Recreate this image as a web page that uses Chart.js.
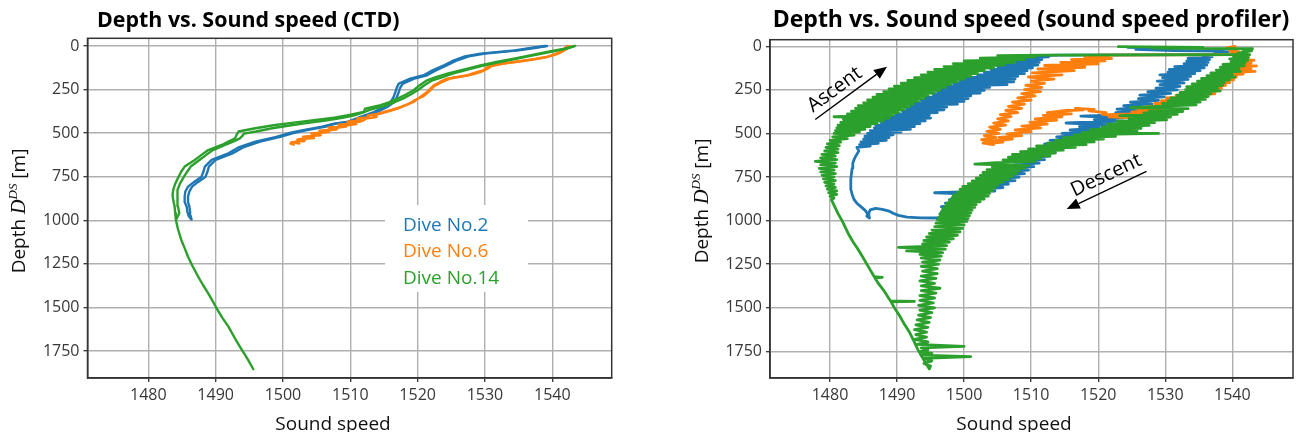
<!DOCTYPE html>
<html><head><meta charset="utf-8">
<script src="https://cdn.jsdelivr.net/npm/chart.js@4.4.1/dist/chart.umd.min.js"></script>
<style>
html,body{margin:0;padding:0;background:#fff;}
#wrap{position:relative;width:1296px;height:432px;overflow:hidden;background:#fff;}
#c1{position:absolute;left:0;top:0;width:650px;height:432px;}
#c2{position:absolute;left:650px;top:0;width:646px;height:432px;}
</style></head><body>
<div id="wrap"><canvas id="c1" width="650" height="432"></canvas><canvas id="c2" width="646" height="432"></canvas></div>
<script>
// ---------- tick labels ----------
const xTickValues = [1480, 1490, 1500, 1510, 1520, 1530, 1540];
const yTickValues = [0, 250, 500, 750, 1000, 1250, 1500, 1750];
const seriesNames = ['Dive No.2', 'Dive No.6', 'Dive No.14'];
const seriesColors = ['#1f77b4', '#ff7f0e', '#2ca02c'];

// ---------- CTD profiles: [depth m, sound speed m/s] ----------
const ctdDive2Down = [[0,1539.0],[10,1537.0],[25,1534.4],[44,1529.3],[60,1527.0],[82,1525.4],[111,1523.9],[140,1522.2],[168,1520.9],[187,1518.9],[216,1517.2],[240,1516.9],[264,1516.7],[295,1516.4],[321,1516.0],[350,1515.0],[379,1513.5],[407,1511.5],[434,1509.7],[446,1507.6],[463,1505.8],[484,1502.8],[501,1500.8],[522,1499.0],[549,1495.9],[580,1493.5],[616,1491.9],[654,1489.4],[692,1488.4],[720,1488.2],[750,1487.9],[780,1486.8],[807,1485.9],[835,1485.5],[864,1485.4],[895,1485.4],[922,1485.7],[950,1485.8],[975,1486.0],[995,1486.4]];
const ctdDive2Up = [[995,1486.4],[975,1486.3],[950,1486.2],[922,1486.1],[895,1485.9],[864,1485.9],[835,1486.1],[807,1486.5],[780,1487.4],[750,1488.5],[720,1488.8],[692,1489.0],[654,1490.0],[616,1492.5],[580,1494.2],[549,1496.6],[522,1499.6],[501,1501.4],[484,1503.4],[463,1506.4],[446,1507.8],[434,1510.2],[407,1512.0],[379,1514.0],[350,1515.5],[321,1516.5],[295,1516.9],[264,1517.2],[240,1517.4],[216,1517.8],[187,1519.5],[168,1521.4],[140,1522.7],[111,1524.3],[82,1525.9],[60,1527.6],[44,1530.0],[25,1535.0],[10,1537.6],[0,1539.2]];
const ctdDive6Down = [[0,1542.2],[15,1541.8],[34,1541.2],[50,1540.2],[63,1539.2],[78,1536.8],[92,1534.3],[111,1530.8],[125,1530.2],[139,1529.8],[155,1528.4],[168,1527.4],[187,1524.4],[205,1523.4],[226,1522.4],[245,1521.9],[264,1521.4],[292,1520.4],[321,1519.4],[340,1518.2],[360,1517.0],[374,1515.8],[388,1514.5],[400,1513.4],[408,1513.9],[416,1512.3],[426,1512.0],[432,1511.6],[440,1510.6],[448,1510.9],[455,1509.5],[462,1509.4],[470,1508.0],[478,1507.8],[484,1507.0],[492,1506.4],[500,1505.3],[506,1505.4],[512,1504.6],[520,1503.8],[527,1503.8],[534,1502.6],[541,1502.1],[548,1502.3],[554,1501.2],[560,1501.1],[566,1501.6]];
const ctdDive6Up = [[560,1502.4],[552,1501.4],[545,1503.2],[536,1502.2],[528,1504.6],[520,1503.0],[512,1505.6],[502,1504.2],[494,1506.8],[486,1505.4],[478,1508.0],[468,1506.8],[460,1509.2],[452,1508.2],[444,1510.4],[434,1509.6],[426,1511.6],[416,1511.0],[408,1512.8],[398,1512.6],[390,1514.0],[378,1515.0],[366,1516.2],[350,1517.6],[330,1518.8],[310,1519.6],[290,1520.8],[270,1521.4],[250,1522.0],[232,1522.4],[215,1523.2],[200,1524.0],[185,1525.0],[170,1527.4],[158,1528.6],[145,1529.6],[130,1530.4],[115,1531.0],[100,1533.0],[88,1535.4],[75,1537.6],[60,1539.6],[45,1540.8],[30,1541.6],[15,1542.2],[0,1542.6]];
const ctdDive14Down = [[0,1543.3],[15,1541.8],[34,1539.2],[55,1536.5],[73,1534.3],[92,1531.7],[111,1529.3],[130,1527.4],[159,1524.4],[180,1522.6],[197,1521.4],[225,1520.3],[254,1519.4],[280,1518.2],[302,1517.0],[322,1515.8],[340,1514.5],[360,1512.2],[379,1512.0],[398,1509.5],[412,1507.6],[426,1504.6],[440,1501.6],[455,1498.6],[472,1495.9],[491,1493.4],[510,1493.1],[530,1492.9],[549,1491.9],[568,1490.9],[597,1488.9],[625,1487.9],[654,1486.9],[692,1485.4],[720,1484.9],[750,1484.5],[790,1484.0],[826,1483.7],[855,1483.6],[884,1483.7],[920,1483.9],[960,1484.0],[998,1484.1],[1050,1484.4],[1113,1484.9],[1160,1485.4],[1209,1485.9],[1265,1486.6],[1323,1487.4],[1370,1488.1],[1419,1488.9],[1460,1489.5],[1505,1490.15],[1560,1491.0],[1610,1491.9],[1680,1492.9],[1744,1493.9],[1800,1494.8],[1855,1495.6]];
const ctdDive14Up = [[998,1484.1],[960,1484.6],[920,1484.4],[884,1484.3],[855,1484.3],[826,1484.4],[790,1484.7],[750,1485.3],[720,1485.8],[692,1486.3],[654,1487.6],[625,1488.6],[597,1489.6],[568,1491.4],[549,1492.6],[530,1493.6],[515,1494.0],[503,1494.2],[491,1496.0],[472,1498.4],[455,1501.2],[440,1504.0],[426,1506.6],[412,1508.8],[398,1510.6],[385,1511.6],[365,1513.0],[345,1515.0],[325,1516.4],[302,1517.8],[280,1518.9],[254,1520.0],[225,1521.0],[197,1522.2],[180,1523.6],[159,1525.2],[130,1528.0],[111,1529.9],[92,1532.2],[73,1534.8],[55,1537.0],[34,1539.8],[15,1542.2],[0,1543.4]];

// ---------- Sound speed profiler: [depth m, sound speed m/s] ----------
const profDive2Down = [[6,1524.4],[12,1530.8],[18,1525.6],[24,1531.2],[28,1538.0],[32,1539.4],[36,1537.4],[44,1538.4],[52,1535.6],[60,1537.0],[68,1533.4],[76,1536.6],[84,1533.2],[92,1536.4],[100,1532.8],[108,1536.2],[116,1531.4],[124,1535.8],[132,1530.6],[140,1535.2],[148,1530.4],[156,1534.4],[164,1529.2],[172,1533.8],[180,1529.6],[190,1533.4],[200,1528.8],[210,1532.8],[220,1529.2],[230,1532.2],[240,1528.6],[250,1531.8],[260,1527.4],[270,1530.8],[280,1526.2],[290,1529.8],[300,1526.0],[310,1529.0],[320,1524.8],[330,1528.0],[340,1523.8],[350,1527.0],[360,1522.8],[370,1526.0],[380,1522.6],[390,1525.0],[400,1517.4],[410,1523.8],[420,1519.4],[430,1522.6],[440,1515.2],[450,1521.2],[460,1517.2],[470,1520.2],[480,1515.8],[490,1519.4],[500,1514.6],[510,1518.2],[520,1513.8],[530,1517.2],[540,1512.8],[550,1516.4],[560,1512.0],[570,1515.4],[580,1511.2],[590,1514.6],[600,1510.0],[610,1513.6],[620,1509.6],[630,1512.8],[640,1508.8],[650,1512.0],[660,1508.0],[670,1511.2],[680,1507.4],[690,1510.4],[700,1506.8],[710,1509.6],[720,1506.0],[730,1509.0],[740,1505.4],[750,1508.2],[760,1504.8],[770,1507.6],[780,1503.8],[790,1506.6],[800,1502.6],[810,1505.8],[820,1501.8],[830,1504.6],[840,1495.6],[850,1502.2],[860,1498.4],[870,1501.6],[880,1497.8],[890,1500.8],[900,1497.2],[910,1500.2],[920,1496.6],[930,1499.8],[940,1496.8],[950,1499.4],[960,1496.4],[970,1498.8],[980,1497.0]];
const profDive2Up = [[985,1496.0],[984,1493.5],[980,1491.5],[970,1490.2],[958,1489.4],[945,1488.8],[935,1487.8],[930,1486.8],[938,1486.0],[955,1485.8],[975,1485.8],[985,1485.9],[975,1485.5],[960,1485.6],[940,1485.2],[920,1484.6],[900,1484.0],[880,1483.6],[850,1483.3],[820,1483.1],[790,1483.1],[760,1483.1],[730,1483.2],[700,1483.3],[670,1483.4],[640,1483.7],[620,1484.0],[600,1484.3],[580,1484.0],[572,1486.0],[564,1484.4],[556,1487.2],[548,1484.6],[540,1488.4],[532,1485.0],[524,1488.8],[516,1485.2],[508,1489.4],[500,1485.6],[492,1490.6],[484,1486.0],[476,1492.0],[468,1486.6],[460,1492.6],[452,1486.8],[444,1493.4],[436,1487.6],[428,1494.2],[420,1487.8],[412,1495.0],[404,1488.2],[396,1494.8],[388,1489.8],[380,1496.0],[372,1490.8],[364,1497.0],[356,1491.4],[348,1497.4],[340,1492.0],[332,1499.0],[324,1492.6],[316,1500.0],[308,1493.6],[300,1500.6],[292,1494.2],[284,1501.0],[276,1495.4],[268,1502.4],[260,1496.0],[252,1503.0],[244,1496.4],[236,1503.8],[228,1497.2],[220,1506.4],[212,1498.4],[204,1507.4],[196,1499.4],[188,1507.6],[180,1500.0],[172,1508.0],[164,1502.0],[156,1509.0],[148,1503.0],[140,1509.4],[132,1504.0],[124,1510.2],[116,1505.0],[108,1511.0],[100,1506.2],[92,1511.2],[84,1507.6],[76,1511.6],[68,1509.0],[60,1512.6],[54,1510.4],[50,1514.0],[48,1536.0]];
const profDive6Down = [[0,1540.4],[8,1539.2],[16,1540.8],[24,1539.6],[32,1541.0],[40,1539.8],[48,1541.4],[56,1540.4],[64,1542.4],[72,1540.8],[80,1543.2],[88,1541.0],[96,1542.8],[104,1540.6],[112,1543.6],[120,1540.2],[128,1542.8],[136,1539.8],[144,1543.4],[152,1539.4],[160,1541.6],[168,1538.6],[176,1540.6],[184,1537.8],[192,1540.2],[200,1537.0],[208,1539.6],[216,1535.4],[224,1539.0],[232,1534.8],[240,1538.4],[248,1534.0],[256,1538.0],[264,1532.4],[272,1537.4],[280,1531.6],[288,1536.0],[296,1530.2],[304,1534.6],[312,1529.4],[320,1533.6],[328,1528.4],[336,1532.0],[344,1527.2],[352,1530.8],[360,1526.0],[368,1529.6],[376,1525.0],[384,1528.2],[392,1521.6],[400,1526.0],[406,1524.2],[410,1525.8],[404,1521.6],[398,1523.0],[390,1520.6],[380,1521.2],[370,1518.6],[362,1519.4],[356,1516.6],[364,1517.8],[372,1514.2],[366,1515.6],[380,1512.4],[388,1516.0],[396,1511.8],[404,1514.6],[416,1510.6],[424,1513.8],[436,1509.8],[446,1512.4],[458,1508.6],[468,1511.4],[480,1507.6],[490,1510.0],[502,1506.4],[512,1508.6],[522,1505.2],[532,1507.2],[542,1504.2],[550,1505.8],[558,1503.4],[562,1504.4]];
const profDive6Up = [[562,1504.4],[556,1502.8],[546,1504.6],[536,1502.6],[524,1504.8],[512,1503.0],[500,1505.2],[488,1503.4],[476,1505.4],[464,1503.8],[452,1506.2],[440,1504.4],[428,1506.6],[416,1505.0],[404,1507.0],[392,1505.4],[380,1508.0],[368,1506.2],[356,1508.6],[344,1506.6],[332,1509.0],[320,1507.2],[308,1510.0],[296,1508.0],[284,1510.6],[272,1508.6],[260,1511.4],[248,1509.0],[236,1511.6],[224,1509.2],[212,1512.0],[200,1510.0],[188,1513.4],[176,1509.6],[164,1514.6],[152,1510.2],[140,1516.4],[130,1511.0],[120,1518.0],[110,1512.0],[100,1520.0],[92,1514.4],[84,1521.0],[76,1516.0],[70,1522.0],[62,1518.0],[56,1521.6],[50,1520.0],[48,1541.0]];
const profDive14Down = [[2,1523.0],[6,1535.6],[10,1528.0],[14,1543.0],[20,1541.6],[26,1542.9],[32,1541.8],[40,1540.8],[48,1542.6],[56,1540.2],[64,1542.4],[72,1539.6],[80,1542.3],[88,1539.8],[96,1541.9],[104,1538.6],[112,1541.8],[120,1538.2],[128,1541.0],[136,1537.6],[144,1541.2],[152,1536.8],[160,1540.0],[168,1536.2],[176,1540.4],[184,1535.4],[192,1539.6],[200,1534.8],[208,1538.8],[216,1534.0],[224,1538.6],[232,1533.2],[240,1537.8],[248,1533.0],[256,1538.2],[264,1532.2],[272,1536.8],[280,1531.8],[288,1536.4],[296,1530.8],[304,1536.0],[312,1530.4],[320,1535.2],[328,1529.6],[336,1534.6],[344,1528.8],[352,1524.8],[358,1533.4],[366,1527.6],[374,1532.6],[382,1526.8],[390,1531.8],[398,1523.2],[406,1530.8],[414,1524.6],[422,1530.2],[430,1522.8],[438,1528.4],[446,1521.4],[454,1527.6],[462,1520.6],[470,1526.4],[478,1518.8],[486,1525.8],[494,1517.6],[500,1529.0],[508,1516.4],[516,1522.6],[524,1514.8],[532,1520.8],[540,1513.6],[548,1519.4],[556,1512.4],[564,1518.2],[572,1510.8],[580,1516.6],[588,1509.6],[596,1514.8],[604,1508.4],[612,1513.6],[620,1507.2],[628,1512.8],[636,1506.6],[644,1511.4],[652,1505.8],[660,1510.6],[668,1504.8],[676,1501.6],[684,1509.6],[692,1504.2],[700,1509.0],[708,1503.4],[716,1508.2],[724,1502.8],[732,1507.8],[740,1502.4],[748,1507.2],[756,1501.8],[764,1506.6],[772,1501.2],[780,1505.8],[788,1500.6],[796,1505.0],[804,1499.8],[812,1504.6],[820,1499.4],[828,1504.2],[836,1499.0],[844,1503.8],[852,1498.4],[860,1503.6],[868,1498.2],[876,1503.0],[884,1497.8],[892,1502.4],[900,1497.4],[908,1501.8],[916,1497.2],[924,1501.6],[932,1496.8],[940,1501.2],[948,1496.6],[956,1501.0],[964,1496.4],[972,1500.8],[980,1496.2],[988,1500.6],[996,1496.0],[1004,1500.4],[1014,1495.8],[1024,1500.0],[1034,1495.6],[1044,1499.8],[1054,1495.2],[1064,1499.4],[1074,1494.8],[1084,1499.0],[1094,1494.4],[1104,1498.4],[1114,1494.0],[1124,1497.8],[1134,1493.8],[1144,1497.4],[1154,1490.2],[1164,1497.2],[1174,1491.4],[1184,1496.8],[1194,1493.4],[1204,1496.6],[1214,1493.6],[1226,1496.4],[1238,1493.8],[1250,1496.2],[1262,1493.6],[1276,1496.0],[1290,1493.8],[1304,1496.0],[1318,1493.6],[1332,1495.8],[1346,1493.4],[1360,1495.6],[1374,1493.6],[1388,1496.4],[1402,1493.6],[1416,1495.8],[1430,1493.4],[1444,1495.6],[1458,1493.4],[1472,1495.4],[1486,1493.2],[1500,1495.6],[1514,1493.4],[1528,1495.2],[1542,1493.2],[1556,1495.0],[1570,1493.0],[1584,1494.8],[1598,1492.8],[1612,1494.6],[1626,1492.6],[1640,1494.4],[1654,1492.8],[1668,1494.4],[1682,1492.6],[1696,1494.6],[1710,1493.0],[1722,1500.0],[1730,1493.6],[1742,1494.6],[1752,1493.4],[1762,1495.2],[1772,1493.6],[1780,1501.0],[1790,1494.0],[1805,1495.2],[1820,1494.0],[1835,1495.0],[1850,1494.8]];
const profDive14Up = [[1850,1494.8],[1800,1494.0],[1740,1493.1],[1690,1492.5],[1644,1491.9],[1595,1491.1],[1547,1490.4],[1500,1489.6],[1466,1489.1],[1463,1492.6],[1460,1489.0],[1400,1488.0],[1354,1487.1],[1330,1486.7],[1326,1487.8],[1322,1486.6],[1257,1485.6],[1210,1484.9],[1160,1484.1],[1120,1483.4],[1080,1482.8],[1040,1482.3],[1000,1481.8],[960,1481.2],[920,1480.7],[880,1480.2],[870,1480.6],[860,1480.0],[850,1481.0],[840,1479.8],[830,1481.0],[820,1479.6],[810,1480.8],[800,1479.4],[790,1480.6],[780,1479.2],[770,1480.8],[760,1479.0],[750,1480.6],[740,1478.8],[730,1480.8],[720,1478.6],[710,1480.6],[700,1478.4],[690,1481.0],[680,1478.6],[670,1480.8],[660,1477.8],[650,1481.0],[640,1478.6],[630,1480.8],[620,1478.8],[610,1481.2],[600,1479.2],[590,1481.2],[580,1479.4],[570,1481.4],[560,1479.6],[550,1481.6],[540,1480.0],[530,1482.6],[520,1480.4],[510,1483.6],[500,1480.6],[492,1484.4],[484,1480.8],[476,1485.2],[468,1481.0],[460,1486.0],[452,1481.2],[444,1487.0],[436,1481.6],[428,1488.0],[420,1482.0],[412,1488.8],[404,1480.6],[396,1489.4],[388,1482.6],[380,1490.2],[372,1483.2],[364,1491.0],[356,1483.8],[348,1491.8],[340,1484.2],[332,1492.4],[324,1485.0],[316,1493.2],[308,1485.6],[300,1494.0],[292,1486.4],[284,1494.6],[276,1487.0],[268,1495.6],[260,1488.0],[252,1496.4],[244,1488.8],[236,1497.2],[228,1489.6],[220,1498.0],[212,1490.6],[204,1499.0],[196,1491.6],[188,1500.0],[180,1492.6],[172,1501.0],[164,1493.6],[156,1502.0],[148,1494.6],[140,1503.0],[132,1495.6],[124,1504.4],[116,1497.0],[108,1506.0],[100,1498.4],[92,1507.6],[84,1500.0],[76,1509.0],[68,1502.4],[60,1510.6],[54,1505.0],[50,1512.0],[48,1541.5]];

// ---------- annotation arrows (data coordinates: speed, depth) ----------
const arrowAscent = {from: [1477.8, 420], to: [1488.5, 117], text: 'Ascent', at: [1480.7, 249]};
const arrowDescent = {from: [1527.2, 718], to: [1515.3, 934], text: 'Descent', at: [1521.2, 741]};

// ---------- helpers ----------
const FONT = '"Open Sans", "Noto Sans", sans-serif';
function toXY(arr) { return arr.map(p => ({x: p[1], y: p[0]})); }
function lineSet(arr, color, w) {
  return {data: toXY(arr), showLine: true, borderColor: color, backgroundColor: color,
          borderWidth: w, pointRadius: 0, pointHoverRadius: 0, fill: false, tension: 0,
          borderJoinStyle: 'round', borderCapStyle: 'round'};
}
function drawYTitle(ctx, x, yc) {
  const parts = [
    {t: 'Depth ', f: '19px ' + FONT, dy: 0},
    {t: 'D', f: 'italic 20px "Liberation Serif", serif', dy: 0},
    {t: 'DS', f: 'italic 13px "Liberation Serif", serif', dy: -8},
    {t: ' [m]', f: '19px ' + FONT, dy: 0}
  ];
  ctx.save();
  ctx.translate(x, yc);
  ctx.rotate(-Math.PI / 2);
  let total = 0;
  parts.forEach(p => { ctx.font = p.f; p.w = ctx.measureText(p.t).width; total += p.w; });
  let cx = -total / 2;
  ctx.fillStyle = '#111';
  ctx.textBaseline = 'alphabetic';
  ctx.textAlign = 'left';
  parts.forEach(p => { ctx.font = p.f; ctx.fillText(p.t, cx, p.dy); cx += p.w; });
  ctx.restore();
}
function makeDecor(cfg) {
  return {
    id: 'decor',
    afterDatasetsDraw(chart) {
      const ctx = chart.ctx, a = chart.chartArea;
      const xs = chart.scales.x, ys = chart.scales.y;
      if (cfg.legend) {
        const L = cfg.legend;
        ctx.save();
        ctx.fillStyle = '#ffffff';
        ctx.fillRect(L.box[0], L.box[1], L.box[2] - L.box[0], L.box[3] - L.box[1]);
        ctx.font = '19px ' + FONT;
        ctx.textAlign = 'left'; ctx.textBaseline = 'alphabetic';
        seriesNames.forEach((n, i) => { ctx.fillStyle = seriesColors[i]; ctx.fillText(n, L.x, L.y0 + i * L.dy); });
        ctx.restore();
      }
      if (cfg.arrows) {
        cfg.arrows.forEach(ar => {
          const x0 = xs.getPixelForValue(ar.from[0]), y0 = ys.getPixelForValue(ar.from[1]);
          const x1 = xs.getPixelForValue(ar.to[0]), y1 = ys.getPixelForValue(ar.to[1]);
          const ang = Math.atan2(y1 - y0, x1 - x0);
          const hl = 13, hw = 5.5;
          const bx = x1 - hl * Math.cos(ang), by = y1 - hl * Math.sin(ang);
          ctx.save();
          ctx.strokeStyle = '#000'; ctx.fillStyle = '#000'; ctx.lineWidth = 1.4;
          ctx.beginPath(); ctx.moveTo(x0, y0); ctx.lineTo(bx, by); ctx.stroke();
          ctx.beginPath();
          ctx.moveTo(x1, y1);
          ctx.lineTo(bx + hw * Math.sin(ang), by - hw * Math.cos(ang));
          ctx.lineTo(bx - hw * Math.sin(ang), by + hw * Math.cos(ang));
          ctx.closePath(); ctx.fill();
          let ta = ang;
          if (ta > Math.PI / 2) ta -= Math.PI;
          if (ta < -Math.PI / 2) ta += Math.PI;
          const tx = xs.getPixelForValue(ar.at[0]), ty = ys.getPixelForValue(ar.at[1]);
          ctx.translate(tx, ty); ctx.rotate(ta);
          ctx.font = '20px ' + FONT; ctx.textAlign = 'center'; ctx.textBaseline = 'middle';
          ctx.fillText(ar.text, 0, 0);
          ctx.restore();
        });
      }
      ctx.save();
      ctx.strokeStyle = '#333'; ctx.lineWidth = 1.5;
      ctx.strokeRect(a.left, a.top, a.right - a.left, a.bottom - a.top);
      ctx.restore();
    },
    afterDraw(chart) {
      const ctx = chart.ctx;
      ctx.save();
      ctx.fillStyle = '#000';
      ctx.font = 'bold ' + cfg.title.size + 'px ' + FONT;
      ctx.textBaseline = 'alphabetic';
      ctx.textAlign = cfg.title.align;
      ctx.fillText(cfg.title.text, cfg.title.x, cfg.title.y);
      ctx.font = '19px ' + FONT;
      ctx.textAlign = 'center';
      ctx.fillStyle = '#111';
      ctx.fillText('Sound speed', cfg.xTitle.x, cfg.xTitle.y);
      ctx.restore();
      drawYTitle(ctx, cfg.yTitle.x, cfg.yTitle.y);
    }
  };
}
function axisOptions(xmin, xmax, ymin, ymax, yWidth) {
  const tickFont = {family: FONT, size: 16};
  const grid = {color: '#b0b0b0', lineWidth: 1.4, tickLength: 4, tickColor: '#333', tickWidth: 1.3};
  const border = {display: true, color: '#333', width: 1.5};
  return {
    x: {type: 'linear', min: xmin, max: xmax,
        afterBuildTicks: s => { s.ticks = xTickValues.map(v => ({value: v})); },
        afterFit: s => { s.height = 54; },
        ticks: {font: tickFont, color: '#383838', padding: 4, maxRotation: 0, autoSkip: false, callback: v => String(v)},
        grid: grid, border: border, title: {display: false}},
    y: {type: 'linear', reverse: true, min: ymin, max: ymax,
        afterBuildTicks: s => { s.ticks = yTickValues.map(v => ({value: v})); },
        afterFit: s => { s.width = yWidth; },
        ticks: {font: tickFont, color: '#383838', padding: 4, autoSkip: false, callback: v => String(v)},
        grid: grid, border: border, title: {display: false}}
  };
}
function baseOptions(scales, pad) {
  return {responsive: false, animation: false, devicePixelRatio: 1,
          layout: {padding: pad},
          plugins: {legend: {display: false}, tooltip: {enabled: false}, title: {display: false}},
          events: [], scales: scales};
}
const C = seriesColors;

new Chart(document.getElementById('c1'), {
  type: 'scatter',
  data: {datasets: [
    lineSet(ctdDive14Down, C[2], 2.4), lineSet(ctdDive14Up, C[2], 2.4),
    lineSet(ctdDive6Down, C[1], 2.4), lineSet(ctdDive6Up, C[1], 2.4),
    lineSet(ctdDive2Down, C[0], 2.4), lineSet(ctdDive2Up, C[0], 2.4)
  ]},
  options: baseOptions(axisOptions(1470.97, 1548.82, -44, 1905, 87.5), {left: 0, right: 38.3, top: 38.3, bottom: 0}),
  plugins: [makeDecor({
    title: {text: 'Depth vs. Sound speed (CTD)', x: 97, y: 27, align: 'left', size: 21.4},
    xTitle: {x: 333, y: 430},
    yTitle: {x: 25, y: 211},
    legend: {box: [385, 205, 528, 292], x: 403, y0: 230.5, dy: 26.7}
  })]
});

new Chart(document.getElementById('c2'), {
  type: 'scatter',
  data: {datasets: [
    lineSet(profDive14Down, C[2], 2.8), lineSet(profDive14Up, C[2], 2.8),
    lineSet(profDive6Down, C[1], 2.8), lineSet(profDive6Up, C[1], 2.8),
    lineSet(profDive2Down, C[0], 2.8), lineSet(profDive2Up, C[0], 2.8)
  ]},
  options: baseOptions(axisOptions(1471.05, 1549.05, -38, 1903, 120), {left: 0, right: 3, top: 39.7, bottom: 0}),
  plugins: [makeDecor({
    title: {text: 'Depth vs. Sound speed (sound speed profiler)', x: 381, y: 27, align: 'center', size: 23},
    xTitle: {x: 364, y: 430},
    yTitle: {x: 58, y: 201},
    arrows: [arrowAscent, arrowDescent]
  })]
});
</script></body></html>
